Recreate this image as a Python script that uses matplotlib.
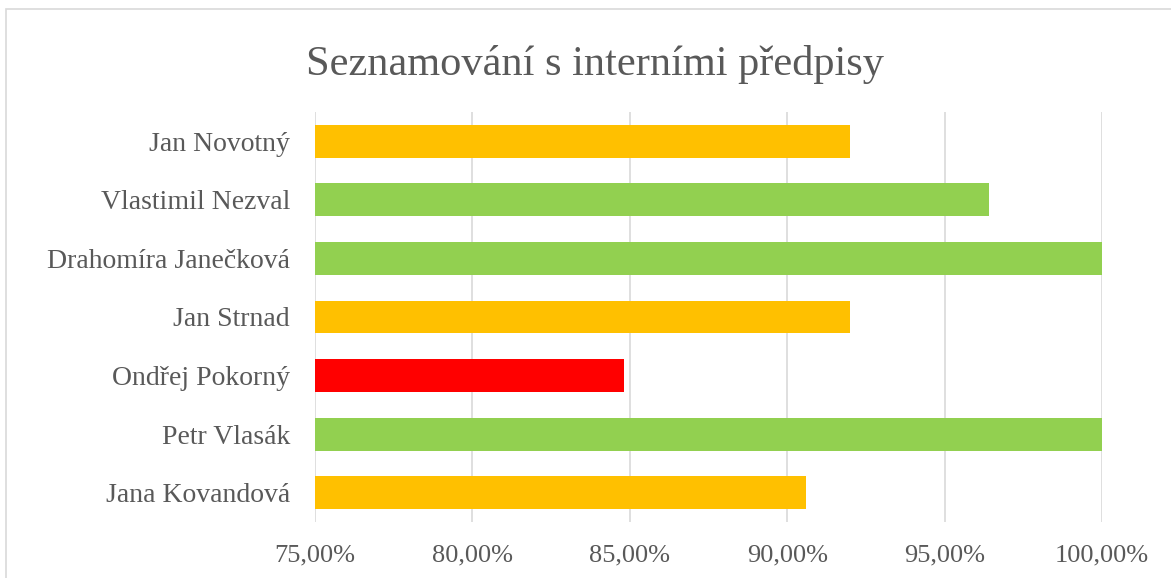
import matplotlib.pyplot as plt
import matplotlib.patches as mpatches
from matplotlib.ticker import FuncFormatter

# data (top to bottom as shown)
names = ["Jan Novotný", "Vlastimil Nezval", "Drahomíra Janečková", "Jan Strnad",
         "Ondřej Pokorný", "Petr Vlasák", "Jana Kovandová"]
scores = [92.0, 96.4, 100.0, 92.0, 84.8, 100.0, 90.6]
colors = ["#FFC000", "#92D050", "#92D050", "#FFC000", "#FF0000", "#92D050", "#FFC000"]
ticks = [75, 80, 85, 90, 95, 100]

plt.rcParams["font.family"] = ["Liberation Serif", "DejaVu Serif"]
txt = "#595959"

fig = plt.figure(figsize=(11.71, 5.78), dpi=100)
fig.patch.set_facecolor("white")
# outer chart border (right and bottom edges run off the image)
fig.add_artist(mpatches.Rectangle((6/1171, -20/578), 1200/1171, (569 + 20)/578,
                                  transform=fig.transFigure, fill=False, ec="#D9D9D9", lw=1.2))

ax = fig.add_axes([315/1171, 1 - 522/578, (1102 - 315)/1171, (522 - 112)/578])
y = list(range(len(names)))[::-1]
ax.barh(y, [s - 75 for s in scores], left=75, height=0.56, color=colors, zorder=3)

ax.set_xlim(75, 100)
ax.set_ylim(-0.5, len(names) - 0.5)
ax.set_xticks(ticks)
ax.xaxis.set_major_formatter(FuncFormatter(lambda v, p: f"{v:.2f}%".replace(".", ",")))
ax.set_yticks(y)
ax.set_yticklabels(names)
ax.grid(axis="x", color="#D9D9D9", lw=1.2, zorder=0)
for s in ax.spines.values():
    s.set_visible(False)
ax.tick_params(axis="both", length=0, colors=txt)
ax.tick_params(axis="x", pad=16, labelsize=19)
ax.tick_params(axis="y", pad=18, labelsize=20)

fig.text(595/1171, 1 - 64/578, "Seznamování s interními předpisy", ha="center", va="center",
         fontsize=30.5, color=txt)

fig.savefig("out.png", dpi=100, facecolor="white")
